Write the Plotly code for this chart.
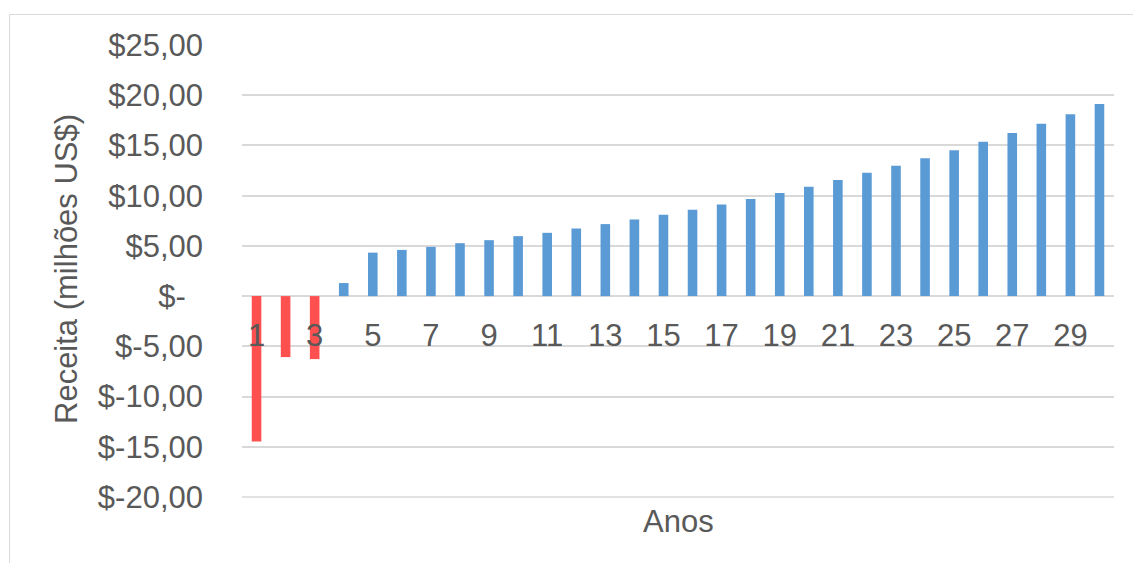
import plotly.graph_objects as go

# Annual revenue (millions of US$), years 1..30
anos = list(range(1, 31))
receita = [
    -14.47, -6.07, -6.27, 1.30, 4.33, 4.60, 4.90, 5.27, 5.57, 5.97,
    6.30, 6.73, 7.17, 7.63, 8.10, 8.60, 9.13, 9.67, 10.27, 10.90,
    11.57, 12.27, 12.97, 13.73, 14.53, 15.37, 16.23, 17.17, 18.10, 19.13,
]

y_ticks = [25, 20, 15, 10, 5, 0, -5, -10, -15, -20]
y_labels = ["$25,00", "$20,00", "$15,00", "$10,00", "$5,00", "$-\u00a0\u00a0",
            "$-5,00", "$-10,00", "$-15,00", "$-20,00"]
x_ticks = anos[::2]

POS = "#5B9BD5"
NEG = "#FF5050"
GRID = "#D9D9D9"
TXT = "#595959"
FONT = "Liberation Sans, Arial, sans-serif"
FS = 31

W, H = 1133, 563
L, R, T, B = 242, 19, 45, 66
y_min, y_max = -20.0, 25.0

fig = go.Figure()
fig.add_trace(go.Bar(
    x=anos, y=receita, width=0.33,
    marker=dict(color=[NEG if v < 0 else POS for v in receita], line=dict(width=0)),
    hoverinfo="x+y",
))

zero_pos = (0 - y_min) / (y_max - y_min)

fig.update_layout(
    width=W, height=H,
    margin=dict(l=L, r=R, t=T, b=B),
    paper_bgcolor="white", plot_bgcolor="white",
    showlegend=False,
    font=dict(family=FONT, size=FS, color=TXT),
    xaxis=dict(
        range=[0.5, 30.5], tickmode="array", tickvals=x_ticks,
        ticktext=[str(v) for v in x_ticks],
        showgrid=False, zeroline=False, showline=False, ticks="",
        anchor="free", position=zero_pos, ticklabelstandoff=18,
        tickfont=dict(family=FONT, size=FS, color=TXT),
    ),
    yaxis=dict(
        range=[y_min, y_max], tickmode="array", tickvals=y_ticks, ticktext=y_labels,
        showgrid=True, gridcolor=GRID, gridwidth=1.5,
        zeroline=True, zerolinecolor=GRID, zerolinewidth=1.5,
        showline=False, ticks="", ticklabelstandoff=38,
        tickfont=dict(family=FONT, size=FS, color=TXT),
    ),
    bargap=0.67,
)

# gridline along the lower edge of the value axis (paper-referenced so it is not clipped)
fig.add_shape(type="line", xref="paper", yref="paper", x0=0, x1=1, y0=0, y1=0,
              line=dict(color=GRID, width=1.5), layer="below")

pw = W - L - R
ph = H - T - B

def px_x(px):
    return (px - L) / pw

def px_y(py):
    return (H - B - py) / ph

# outer chart frame
fig.add_shape(type="rect", xref="paper", yref="paper",
              x0=px_x(9.5), x1=px_x(W + 20), y0=px_y(H + 20), y1=px_y(14.5),
              line=dict(color=GRID, width=1), fillcolor="rgba(0,0,0,0)", layer="below")

fig.add_annotation(text="Receita (milhões US$)", xref="paper", yref="paper",
                   x=px_x(66), y=px_y(269), textangle=-90, showarrow=False,
                   xanchor="center", yanchor="middle",
                   font=dict(family=FONT, size=FS, color=TXT))
fig.add_annotation(text="Anos", xref="paper", yref="paper",
                   x=px_x(678), y=px_y(521), showarrow=False,
                   xanchor="center", yanchor="middle",
                   font=dict(family=FONT, size=FS, color=TXT))

fig.write_html("out.html")
